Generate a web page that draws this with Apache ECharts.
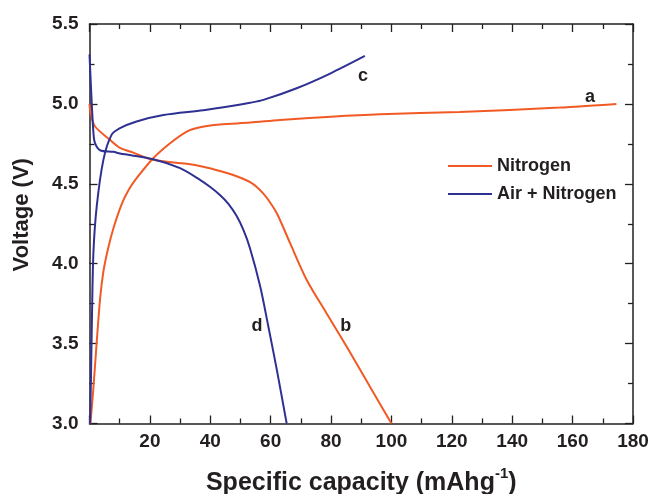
<!DOCTYPE html>
<html>
<head>
<meta charset="utf-8">
<script src="https://cdn.jsdelivr.net/npm/echarts@6/dist/echarts.min.js"></script>
<style>
  html, body { margin: 0; padding: 0; background: #fff; }
  #chart { width: 651px; height: 494px; }
</style>
</head>
<body>
<div id="chart"></div>
<script>
// Nitrogen, charge (a)
var capA = [0.3, 1.2, 2.2, 3.5, 4.6, 6.1, 7.9, 10.6, 12.9, 15.6, 21.1, 26.7, 32.2, 36.6, 43.2, 53.2, 63.1, 80, 96.2, 122.6, 155.7, 174.5];
var voltA = [3.0, 3.2, 3.46, 3.78, 3.95, 4.09, 4.22, 4.37, 4.46, 4.535, 4.66, 4.754, 4.827, 4.854, 4.871, 4.883, 4.90, 4.92, 4.935, 4.95, 4.977, 5.0];
// Nitrogen, discharge (b)
var capB = [0, 0.4, 1.8, 6.8, 10.1, 14.5, 21.1, 32.2, 38, 43.2, 47.6, 51, 53.2, 55.4, 57.5, 59.2, 62, 66.4, 71.9, 78.5, 85.2, 92.9, 100];
var voltB = [5.0, 4.94, 4.86, 4.775, 4.725, 4.695, 4.65, 4.625, 4.605, 4.58, 4.555, 4.53, 4.51, 4.48, 4.44, 4.40, 4.317, 4.13, 3.9, 3.69, 3.48, 3.23, 3.0];
// Air + Nitrogen, charge (c)
var capC = [0.2, 0.5, 0.8, 1.3, 2.4, 4.6, 7.3, 10.1, 15.6, 24.5, 37.7, 46.5, 53.2, 57.6, 68.6, 79.7, 91.2];
var voltC = [3.0, 3.3, 3.65, 4.07, 4.36, 4.65, 4.806, 4.848, 4.89, 4.93, 4.96, 4.985, 5.007, 5.025, 5.098, 5.19, 5.30];
// Air + Nitrogen, discharge (d)
var capD = [0, 0.7, 1.3, 1.8, 3.5, 7.9, 10.1, 21.1, 30, 36.6, 40, 43.2, 46, 48.7, 51, 53.1, 56.5, 59.2, 62, 65.3];
var voltD = [5.31, 5.02, 4.82, 4.756, 4.71, 4.70, 4.69, 4.654, 4.598, 4.525, 4.48, 4.43, 4.375, 4.30, 4.21, 4.10, 3.86, 3.61, 3.34, 3.0];

var xTicks = [0, 180, 20];
var yTicks = [3.0, 5.5, 0.5];

var curveLabels = [
  { name: 'a', coord: [165.8, 5.04] },
  { name: 'b', coord: [84.9, 3.61] },
  { name: 'c', coord: [90.6, 5.175] },
  { name: 'd', coord: [55.5, 3.61] }
];

var ORANGE = '#f15a24';
var BLUE = '#2e3192';
var INK = '#231f20';
var FONT = '"Liberation Sans", Arial, sans-serif';

function pairs(xs, ys) {
  return xs.map(function (x, i) { return [x, ys[i]]; });
}

function labelPoint(item) {
  return {
    coord: item.coord,
    symbol: 'circle',
    symbolSize: 0,
    label: {
      show: true,
      position: 'inside',
      formatter: item.name,
      color: INK,
      fontFamily: FONT,
      fontWeight: 'bold',
      fontSize: 18
    }
  };
}

function axisStyle() {
  return {
    axisLine: { show: true, onZero: false, lineStyle: { color: INK, width: 1.5 } },
    axisTick: { show: true, inside: true, length: 8, lineStyle: { color: INK, width: 1.3 } },
    minorTick: { show: true, splitNumber: 2, length: 5, lineStyle: { color: INK, width: 1.3 } },
    splitLine: { show: false }
  };
}

var chart = echarts.init(document.getElementById('chart'));

var bottomX = Object.assign({
  type: 'value',
  position: 'bottom',
  min: xTicks[0], max: xTicks[1], interval: xTicks[2],
  name: 'Specific capacity (mAhg{sup|-1})',
  nameLocation: 'middle',
  nameGap: 43,
  nameTextStyle: {
    color: INK, fontFamily: FONT, fontWeight: 'bold', fontSize: 25,
    rich: {
      sup: { color: INK, fontFamily: FONT, fontWeight: 'bold', fontSize: 15, padding: [0, 0, 18, 0] }
    }
  },
  axisLabel: {
    color: INK, fontFamily: FONT, fontWeight: 'bold', fontSize: 19, margin: 9,
    formatter: function (v) { return v === 0 ? '' : String(v); }
  }
}, axisStyle());

var topX = Object.assign({
  type: 'value',
  position: 'top',
  min: xTicks[0], max: xTicks[1], interval: xTicks[2],
  axisLabel: { show: false }
}, axisStyle());

var leftY = Object.assign({
  type: 'value',
  position: 'left',
  min: yTicks[0], max: yTicks[1], interval: yTicks[2],
  name: 'Voltage (V)',
  nameLocation: 'middle',
  nameGap: 57,
  nameTextStyle: {
    color: INK, fontFamily: FONT, fontWeight: 'bold', fontSize: 22,
    padding: [0, 0, 0, 18]
  },
  axisLabel: {
    color: INK, fontFamily: FONT, fontWeight: 'bold', fontSize: 19, margin: 11,
    formatter: function (v) { return v.toFixed(1); }
  }
}, axisStyle());

var rightY = Object.assign({
  type: 'value',
  position: 'right',
  min: yTicks[0], max: yTicks[1], interval: yTicks[2],
  axisLabel: { show: false }
}, axisStyle());

chart.setOption({
  backgroundColor: '#fff',
  animation: false,
  grid: { left: 89.5, right: 18, top: 24, bottom: 70.5, outerBoundsMode: 'none', containLabel: false },
  legend: {
    orient: 'vertical',
    left: 443,
    top: 152,
    itemWidth: 44,
    itemHeight: 14,
    itemGap: 10,
    icon: 'path://M0,6 L44,6 L44,8 L0,8 Z',
    data: ['Nitrogen', 'Air + Nitrogen'],
    textStyle: { color: INK, fontFamily: FONT, fontWeight: 'bold', fontSize: 18 }
  },
  xAxis: [bottomX, topX],
  yAxis: [leftY, rightY],
  series: [
    {
      name: 'Nitrogen', type: 'line', symbol: 'none', smooth: 0.3,
      lineStyle: { color: ORANGE, width: 2 }, itemStyle: { color: ORANGE },
      data: pairs(capA, voltA),
      markPoint: { data: [labelPoint(curveLabels[0]), labelPoint(curveLabels[1])] }
    },
    {
      name: 'Nitrogen', type: 'line', symbol: 'none', smooth: 0.3,
      lineStyle: { color: ORANGE, width: 2 }, itemStyle: { color: ORANGE },
      data: pairs(capB, voltB)
    },
    {
      name: 'Air + Nitrogen', type: 'line', symbol: 'none', smooth: 0.3,
      lineStyle: { color: BLUE, width: 2 }, itemStyle: { color: BLUE },
      data: pairs(capC, voltC),
      markPoint: { data: [labelPoint(curveLabels[2]), labelPoint(curveLabels[3])] }
    },
    {
      name: 'Air + Nitrogen', type: 'line', symbol: 'none', smooth: 0.3,
      lineStyle: { color: BLUE, width: 2 }, itemStyle: { color: BLUE },
      data: pairs(capD, voltD)
    }
  ]
});
</script>
</body>
</html>
